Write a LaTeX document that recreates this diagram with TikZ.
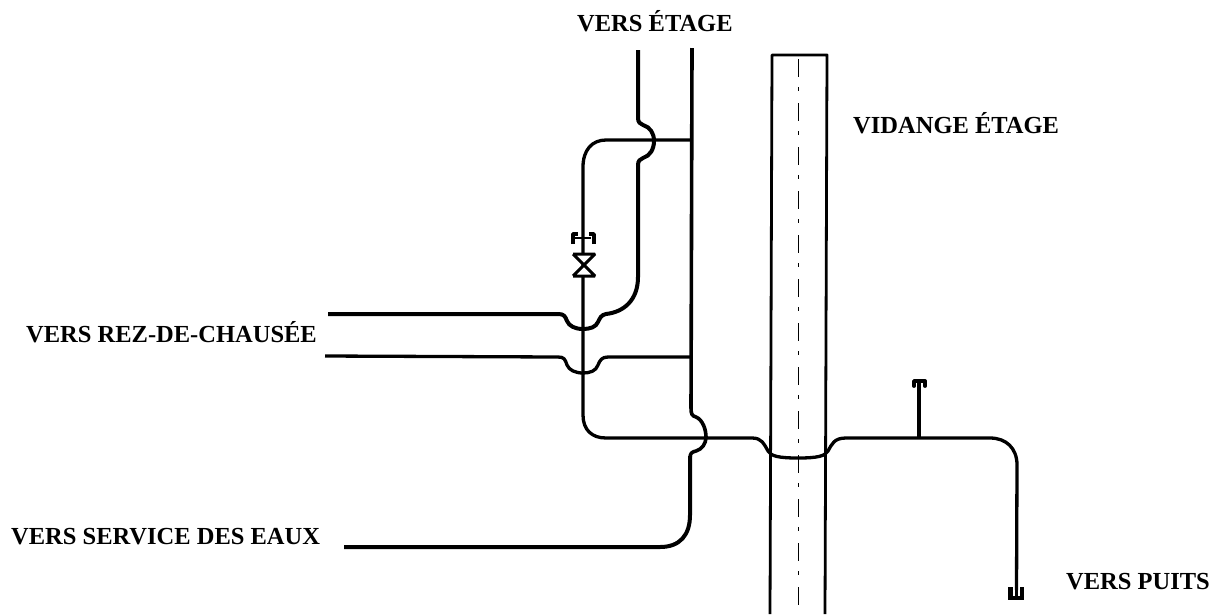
\documentclass[tikz,border=0pt]{standalone}
\usepackage{fontspec}
\setmainfont{Liberation Serif}
\tikzset{
  pipe/.style={line width=4pt,line join=round,black},
  thin pipe/.style={line width=3.3pt,line join=round,black},
  wall/.style={line width=2.8pt,black},
  axis/.style={line width=1.2pt,black,dash pattern=on 18pt off 10pt on 4pt off 12pt},
  lbl/.style={font=\bfseries\fontsize{24.5}{28}\selectfont,inner sep=0pt,anchor=base west,text=black},
  fittingline/.style={line width=3.6pt,black,line join=round}
}
\begin{document}
\begin{tikzpicture}[x=1pt,y=-1pt]
\useasboundingbox (0,0) rectangle (1222,614);
% labels
\node[lbl] (letage) at (577,31) {VERS ÉTAGE};
\node[lbl] (lvid) at (853,133) {VIDANGE ÉTAGE};
\node[lbl] (lrdc) at (26,342) {VERS REZ-DE-CHAUSÉE};
\node[lbl] (lserv) at (11,544) {VERS SERVICE DES EAUX};
\node[lbl] (lpuits) at (1066,589.5) {VERS PUITS};
% chimney
\draw[wall,line join=round] (770,614) -- (772,55) -- (827,55) -- (825,614);
\draw[axis] (798.5,59) -- (798.5,614);
% named points
\coordinate (top1) at (638,50);
\coordinate (top2) at (692,48);
\coordinate (w1) at (328,314);
\coordinate (w2) at (325,356);
\coordinate (w3) at (344,547);
\coordinate (puits) at (1016.5,590);
% right riser
\draw[pipe,line width=3.6pt] (top2) -- (691,408) .. controls (691,414) and (692,416) .. (696,417)
  .. controls (703,420) and (706,430) .. (706,437)
  .. controls (706,444) and (702,449) .. (696,451)
  .. controls (692,452) and (690,453) .. (690,458);
\draw[pipe] (690,456) -- (690,515) .. controls (690,535) and (680,547) .. (660,547) -- (w3);
% left riser
\draw[pipe] (top1) -- (638,118) .. controls (638,122) and (640,124) .. (643,125)
  .. controls (650,127) and (654,133) .. (654,141)
  .. controls (654,149) and (650,156) .. (643,158)
  .. controls (640,159) and (638,161) .. (638,165)
  -- (638,277) .. controls (638,300) and (624,312) .. (606,314)
  .. controls (601,315) and (600,318) .. (598,322)
  .. controls (596,327) and (590,329) .. (583,329)
  .. controls (575,329) and (569,326) .. (567,321)
  .. controls (565,316) and (564,314) .. (558,314) -- (w1);
% second horizontal
\draw[thin pipe] (691,357) -- (608,357) .. controls (602,357) and (600,360) .. (598,365)
  .. controls (596,371) and (590,373) .. (583,373)
  .. controls (575,373) and (569,370) .. (567,365)
  .. controls (565,359) and (564,357) .. (558,357) -- (w2);
% main line
\draw[thin pipe] (692,140) -- (606,140) .. controls (592,140) and (583,150) .. (583,167)
  -- (583,415) .. controls (583,430) and (592,438) .. (606,438)
  -- (752,438) .. controls (762,438) and (764,444) .. (768,451)
  .. controls (771,456) and (778,458) .. (798,458)
  .. controls (818,458) and (825,456) .. (828,451)
  .. controls (832,444) and (834,438) .. (846,438)
  -- (990,438) .. controls (1006,438) and (1017,448) .. (1017,465) -- (puits);
% valve
\draw[fittingline,line width=3pt,line join=bevel,fill=white] (573,254) -- (595,254) -- (584,265) -- (573,254);
\draw[fittingline,line width=3pt,line join=bevel,fill=white] (573,276) -- (595,276) -- (584,265) -- (573,276);
\draw[fittingline,line width=1.6pt] (575,238) -- (591,238);
\draw[fittingline] (573,244) -- (573,234) -- (578,234);
\draw[fittingline] (594,244) -- (594,234) -- (589,234);
% vent
\draw[thin pipe] (919,438) -- (919,382);
\draw[fittingline,line width=3.8pt,line cap=round] (914,386) -- (914,381) -- (925,381) -- (925,386);
% trap
\draw[fittingline,line width=4.5pt,line join=miter] (1010.5,587) -- (1010.5,598) -- (1022,598) -- (1022,587);
\draw[fittingline,line width=2.4pt] (1016.5,590) -- (1016.5,597);
\end{tikzpicture}
\end{document}
